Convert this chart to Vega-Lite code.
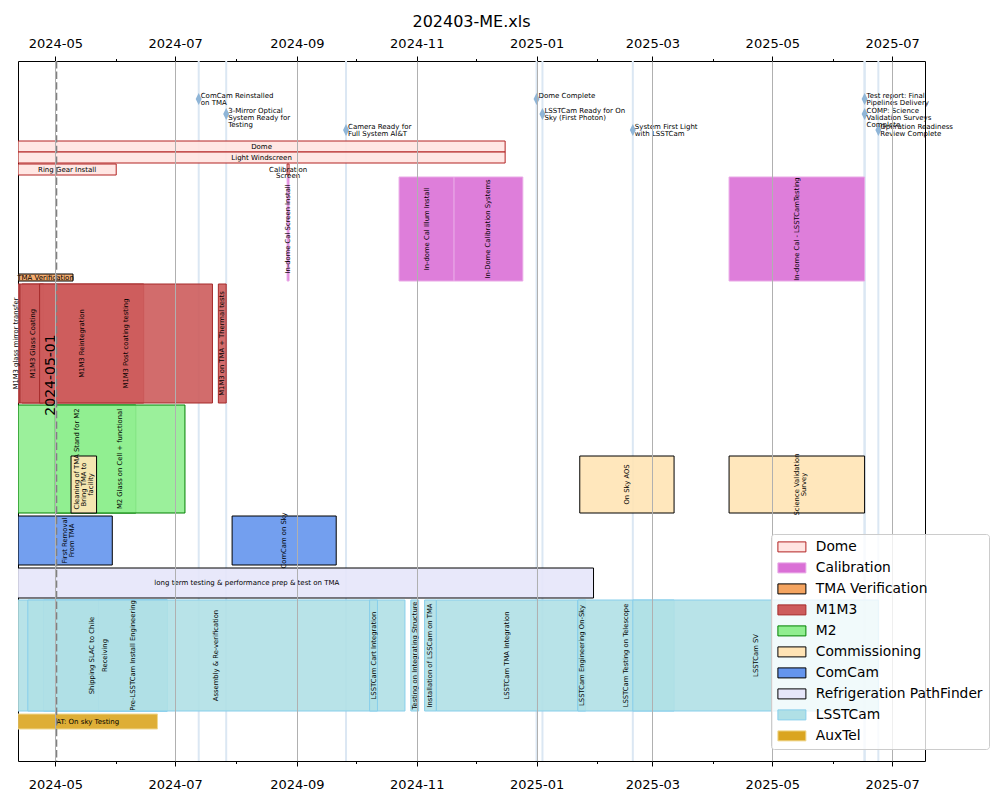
{
  "$schema": "https://vega.github.io/schema/vega-lite/v6.json",
  "width": 907,
  "height": 700,
  "autosize": {"type": "none"},
  "padding": {"left": 18, "top": 61, "right": 75, "bottom": 39},
  "title": {"text": "202403-ME.xls", "fontSize": 16, "font": "DejaVu Sans", "fontWeight": "normal", "offset": 7, "color": "black"},
  "config": {
    "font": "DejaVu Sans",
    "view": {"stroke": "black", "strokeWidth": 1},
    "axis": {"labelFont": "DejaVu Sans", "labelFontSize": 13, "labelColor": "black", "tickColor": "black", "domain": false, "labelPadding": 5, "labelOverlap": false, "labelFlush": false, "title": null},
    "legend": {"symbolType": "M-2.8,-1H2.8V1H-2.8Z", "symbolSize": 100, "labelFont": "DejaVu Sans", "labelFontSize": 13.8, "labelColor": "black", "padding": 6, "symbolOffset": 8, "labelOffset": 17, "rowPadding": 6, "labelLimit": 300, "fillColor": "rgba(255,255,255,0.8)", "strokeColor": "#cccccc", "cornerRadius": 3, "symbolStrokeWidth": 1, "symbolOpacity": 1},
    "text": {"font": "DejaVu Sans", "color": "black"}
  },
  "datasets": {
    "bars": [
      {"task": "Dome", "group": "Dome", "start": "2024-04-12", "end": "2024-12-16", "y0": 8.0, "y1": 9.1},
      {"task": "Light Windscreen", "group": "Dome", "start": "2024-04-12", "end": "2024-12-16", "y0": 9.1, "y1": 10.2},
      {"task": "Ring Gear Install", "group": "Dome", "start": "2024-04-12", "end": "2024-06-01", "y0": 10.3, "y1": 11.4},
      {"task": "Calibration\nScreen", "group": "Dome", "start": "2024-08-27", "end": "2024-08-28", "y0": 10.3, "y1": 11.4},
      {"task": "In-dome Cal Screen Install", "group": "Calibration", "start": "2024-08-27", "end": "2024-08-28", "y0": 11.6, "y1": 22.0},
      {"task": "In-dome Cal Illum Install", "group": "Calibration", "start": "2024-10-23", "end": "2024-11-20", "y0": 11.6, "y1": 22.0},
      {"task": "In-Dome Calibration Systems", "group": "Calibration", "start": "2024-11-20", "end": "2024-12-25", "y0": 11.6, "y1": 22.0},
      {"task": "In-dome Cal - LSSTCamTesting", "group": "Calibration", "start": "2025-04-09", "end": "2025-06-17", "y0": 11.6, "y1": 22.0},
      {"task": "TMA Verification", "group": "TMA Verification", "start": "2024-04-12", "end": "2024-05-10", "y0": 21.3, "y1": 22.0},
      {"task": "M1M3 glass mirror transfer", "group": "M1M3", "start": "2024-04-09", "end": "2024-04-13", "y0": 22.3, "y1": 34.2},
      {"task": "M1M3 Glass Coating", "group": "M1M3", "start": "2024-04-14", "end": "2024-04-25", "y0": 22.3, "y1": 34.2},
      {"task": "M1M3 Reintegration", "group": "M1M3", "start": "2024-04-13", "end": "2024-06-15", "y0": 22.3, "y1": 34.2},
      {"task": "M1M3 Post coating testing", "group": "M1M3", "start": "2024-04-23", "end": "2024-07-20", "y0": 22.3, "y1": 34.2},
      {"task": "M1M3 on TMA + Thermal tests", "group": "M1M3", "start": "2024-07-23", "end": "2024-07-27", "y0": 22.3, "y1": 34.2},
      {"task": "Cleaning of TMA Stand for M2", "group": "M2", "start": "2024-04-12", "end": "2024-06-11", "y0": 34.4, "y1": 45.2},
      {"task": "M2 Glass on Cell + functional", "group": "M2", "start": "2024-05-01", "end": "2024-07-06", "y0": 34.4, "y1": 45.2},
      {"task": "Bring TMA to\nfacility", "group": "Commissioning", "start": "2024-05-09", "end": "2024-05-22", "y0": 39.5, "y1": 45.2},
      {"task": "On Sky AOS", "group": "Commissioning", "start": "2025-01-23", "end": "2025-03-12", "y0": 39.5, "y1": 45.2},
      {"task": "Science Validation\nSurvey", "group": "Commissioning", "start": "2025-04-09", "end": "2025-06-17", "y0": 39.5, "y1": 45.2},
      {"task": "First Removal\nFrom TMA", "group": "ComCam", "start": "2024-04-12", "end": "2024-05-30", "y0": 45.5, "y1": 50.4},
      {"task": "ComCam on Sky", "group": "ComCam", "start": "2024-07-30", "end": "2024-09-21", "y0": 45.5, "y1": 50.4},
      {"task": "long term testing & performance prep & test  on TMA", "group": "Refrigeration PathFinder", "start": "2024-02-12", "end": "2025-01-30", "y0": 50.7, "y1": 53.7},
      {"task": "Shipping SLAC to Chile", "group": "LSSTCam", "start": "2024-04-11", "end": "2024-06-27", "y0": 53.9, "y1": 65.0},
      {"task": "Receiving", "group": "LSSTCam", "start": "2024-04-25", "end": "2024-06-27", "y0": 53.9, "y1": 65.0},
      {"task": "Pre-LSSTCam Install Engineering", "group": "LSSTCam", "start": "2024-05-23", "end": "2024-06-27", "y0": 53.9, "y1": 65.0},
      {"task": "Assembly & Re-verification", "group": "LSSTCam", "start": "2024-04-17", "end": "2024-10-26", "y0": 53.9, "y1": 65.0},
      {"task": "LSSTCam Cart Integration", "group": "LSSTCam", "start": "2024-10-08", "end": "2024-10-12", "y0": 53.9, "y1": 65.0},
      {"task": "Testing on Integrating Structure", "group": "LSSTCam", "start": "2024-10-29", "end": "2024-11-02", "y0": 53.9, "y1": 65.0},
      {"task": "Installation of LSSCam on TMA", "group": "LSSTCam", "start": "2024-11-05", "end": "2024-11-11", "y0": 53.9, "y1": 65.0},
      {"task": "LSSTCam TMA Integration", "group": "LSSTCam", "start": "2024-11-11", "end": "2025-01-22", "y0": 53.9, "y1": 65.0},
      {"task": "LSSTCam Engineering On-Sky", "group": "LSSTCam", "start": "2025-01-22", "end": "2025-01-26", "y0": 53.9, "y1": 65.0},
      {"task": "LSSTCam Testing on Telescope", "group": "LSSTCam", "start": "2025-01-22", "end": "2025-03-12", "y0": 53.9, "y1": 65.0},
      {"task": "LSSTCam SV", "group": "LSSTCam", "start": "2025-02-19", "end": "2025-06-24", "y0": 53.9, "y1": 65.0},
      {"task": "AT: On sky Testing", "group": "AuxTel", "start": "2024-04-12", "end": "2024-06-22", "y0": 65.3, "y1": 66.8}
    ],
    "milestones": [
      {"name": "ComCam Reinstalled\non TMA", "date": "2024-07-13", "lane": 3.8},
      {"name": "3-Mirror Optical\nSystem Ready for\nTesting", "date": "2024-07-27", "lane": 5.3},
      {"name": "Camera Ready for\nFull System AI&T", "date": "2024-09-26", "lane": 6.9},
      {"name": "Dome Complete", "date": "2025-01-01", "lane": 3.8},
      {"name": "LSSTCam Ready for On\nSky (First Photon)", "date": "2025-01-04", "lane": 5.3},
      {"name": "System First Light\nwith LSSTCam", "date": "2025-02-19", "lane": 6.9},
      {"name": "Test report: Final\nPipelines Delivery", "date": "2025-06-17", "lane": 3.8},
      {"name": "COMP: Science\nValidation Surveys\nComplete", "date": "2025-06-17", "lane": 5.3},
      {"name": "Operation Readiness\nReview Complete", "date": "2025-06-24", "lane": 6.9}
    ],
    "today": [
      {"label": "2024-05-01", "date": "2024-05-01T12:00:00Z", "lane": 31.4}
    ]
  },
  "layer": [
    {
      "data": {"name": "milestones"},
      "mark": {"type": "rule", "color": "#dbe7f3", "strokeWidth": 2},
      "encoding": {
        "x": {"field": "date", "type": "temporal",
          "scale": {"type": "utc", "domain": [{"year": 2024, "month": 4, "date": 12, "utc": true}, {"year": 2025, "month": 7, "date": 17, "hours": 18, "utc": true}]},
          "axis": {"orient": "top", "grid": false, "labelPadding": 6,
            "values": [{"year":2024,"month":5,"date":1,"utc":true},{"year":2024,"month":6,"date":1,"utc":true},{"year":2024,"month":7,"date":1,"utc":true},{"year":2024,"month":8,"date":1,"utc":true},{"year":2024,"month":9,"date":1,"utc":true},{"year":2024,"month":10,"date":1,"utc":true},{"year":2024,"month":11,"date":1,"utc":true},{"year":2024,"month":12,"date":1,"utc":true},{"year":2025,"month":1,"date":1,"utc":true},{"year":2025,"month":2,"date":1,"utc":true},{"year":2025,"month":3,"date":1,"utc":true},{"year":2025,"month":4,"date":1,"utc":true},{"year":2025,"month":5,"date":1,"utc":true},{"year":2025,"month":6,"date":1,"utc":true},{"year":2025,"month":7,"date":1,"utc":true}],
            "labelExpr": "utcmonth(datum.value) % 2 == 0 ? utcFormat(datum.value, '%Y-%m') : ''",
            "tickSize": {"condition": {"test": "utcmonth(datum.value) % 2 == 0", "value": 5}, "value": 2.5}
          }
        }
      }
    },
    {
      "data": {"name": "bars"},
      "mark": {"type": "rect", "fillOpacity": 0.9, "strokeWidth": 1, "strokeOpacity": 1, "clip": true},
      "encoding": {
        "x": {"field": "start", "type": "temporal",
          "scale": {"type": "utc", "domain": [{"year": 2024, "month": 4, "date": 12, "utc": true}, {"year": 2025, "month": 7, "date": 17, "hours": 18, "utc": true}]},
          "axis": {"orient": "bottom", "grid": true, "gridColor": "#b0b0b0", "gridWidth": 1, "zindex": 1, "labelPadding": 12,
            "gridOpacity": {"condition": {"test": "utcmonth(datum.value) % 2 == 0", "value": 1}, "value": 0},
            "values": [{"year":2024,"month":5,"date":1,"utc":true},{"year":2024,"month":6,"date":1,"utc":true},{"year":2024,"month":7,"date":1,"utc":true},{"year":2024,"month":8,"date":1,"utc":true},{"year":2024,"month":9,"date":1,"utc":true},{"year":2024,"month":10,"date":1,"utc":true},{"year":2024,"month":11,"date":1,"utc":true},{"year":2024,"month":12,"date":1,"utc":true},{"year":2025,"month":1,"date":1,"utc":true},{"year":2025,"month":2,"date":1,"utc":true},{"year":2025,"month":3,"date":1,"utc":true},{"year":2025,"month":4,"date":1,"utc":true},{"year":2025,"month":5,"date":1,"utc":true},{"year":2025,"month":6,"date":1,"utc":true},{"year":2025,"month":7,"date":1,"utc":true}],
            "labelExpr": "utcmonth(datum.value) % 2 == 0 ? utcFormat(datum.value, '%Y-%m') : ''",
            "tickSize": {"condition": {"test": "utcmonth(datum.value) % 2 == 0", "value": 5}, "value": 2.5}
          }
        },
        "x2": {"field": "end"},
        "y": {"field": "y0", "type": "quantitative", "scale": {"domain": [0, 70], "reverse": true, "nice": false, "zero": false}, "axis": null},
        "y2": {"field": "y1"},
        "fill": {"field": "group", "type": "nominal", "title": null,
          "scale": {"domain": ["Dome", "Calibration", "TMA Verification", "M1M3", "M2", "Commissioning", "ComCam", "Refrigeration PathFinder", "LSSTCam", "AuxTel"],
                    "range": ["#ffe4e1", "#da70d6", "#f4a460", "#cd5c5c", "#90ee90", "#ffe4b5", "#6495ed", "#e6e6fa", "#b0e0e6", "#daa520"]},
          "legend": {"orient": "none", "legendX": 753, "legendY": 473, "zindex": 2}},
        "stroke": {"field": "group", "type": "nominal", "title": null,
          "scale": {"domain": ["Dome", "Calibration", "TMA Verification", "M1M3", "M2", "Commissioning", "ComCam", "Refrigeration PathFinder", "LSSTCam", "AuxTel"],
                    "range": ["#b22222", "#e9a8e6", "#000000", "#a52a2a", "#008000", "#000000", "#000000", "#000000", "#87ceeb", "#f0d890"]},
          "legend": {"orient": "none", "legendX": 753, "legendY": 473, "zindex": 2}}
      }
    },
    {
      "data": {"name": "bars"},
      "transform": [
        {"filter": {"field": "group", "oneOf": ["Dome", "TMA Verification", "Refrigeration PathFinder", "AuxTel"]}},
        {"calculate": "(time(toDate(datum.start)) + time(toDate(datum.end))) / 2", "as": "mid"},
        {"calculate": "(datum.y0 + datum.y1) / 2", "as": "ym"}
      ],
      "mark": {"type": "text", "fontSize": 7, "align": "center", "baseline": "middle", "lineBreak": "\n", "lineHeight": 6.5},
      "encoding": {
        "x": {"field": "mid", "type": "temporal", "scale": {"type": "utc", "domain": [{"year": 2024, "month": 4, "date": 12, "utc": true}, {"year": 2025, "month": 7, "date": 17, "hours": 18, "utc": true}]}, "axis": null},
        "y": {"field": "ym", "type": "quantitative", "scale": {"domain": [0, 70], "reverse": true, "nice": false, "zero": false}, "axis": null},
        "text": {"field": "task"}
      }
    },
    {
      "data": {"name": "bars"},
      "transform": [
        {"filter": {"not": {"field": "group", "oneOf": ["Dome", "TMA Verification", "Refrigeration PathFinder", "AuxTel"]}}},
        {"calculate": "(time(toDate(datum.start)) + time(toDate(datum.end))) / 2", "as": "mid"},
        {"calculate": "(datum.y0 + datum.y1) / 2", "as": "ym"}
      ],
      "mark": {"type": "text", "fontSize": 6.8, "align": "center", "baseline": "middle", "angle": 270, "lineBreak": "\n", "lineHeight": 7},
      "encoding": {
        "x": {"field": "mid", "type": "temporal", "scale": {"type": "utc", "domain": [{"year": 2024, "month": 4, "date": 12, "utc": true}, {"year": 2025, "month": 7, "date": 17, "hours": 18, "utc": true}]}, "axis": null},
        "y": {"field": "ym", "type": "quantitative", "scale": {"domain": [0, 70], "reverse": true, "nice": false, "zero": false}, "axis": null},
        "text": {"field": "task"}
      }
    },
    {
      "data": {"name": "today"},
      "mark": {"type": "rule", "color": "#808080", "strokeWidth": 2, "strokeDash": [7.4, 3.2]},
      "encoding": {
        "x": {"field": "date", "type": "temporal", "scale": {"type": "utc", "domain": [{"year": 2024, "month": 4, "date": 12, "utc": true}, {"year": 2025, "month": 7, "date": 17, "hours": 18, "utc": true}]}, "axis": null}
      }
    },
    {
      "data": {"name": "today"},
      "mark": {"type": "text", "fontSize": 14, "angle": 270, "align": "center", "baseline": "alphabetic", "dy": -1},
      "encoding": {
        "x": {"field": "date", "type": "temporal", "scale": {"type": "utc", "domain": [{"year": 2024, "month": 4, "date": 12, "utc": true}, {"year": 2025, "month": 7, "date": 17, "hours": 18, "utc": true}]}, "axis": null},
        "y": {"field": "lane", "type": "quantitative", "scale": {"domain": [0, 70], "reverse": true, "nice": false, "zero": false}, "axis": null},
        "text": {"field": "label"}
      }
    },
    {
      "data": {"name": "milestones"},
      "mark": {"type": "point", "shape": "M0,-1L0.5,0L0,1L-0.5,0Z", "filled": true, "size": 144, "color": "#8fb5d7", "opacity": 1},
      "encoding": {
        "x": {"field": "date", "type": "temporal", "scale": {"type": "utc", "domain": [{"year": 2024, "month": 4, "date": 12, "utc": true}, {"year": 2025, "month": 7, "date": 17, "hours": 18, "utc": true}]}, "axis": null},
        "y": {"field": "lane", "type": "quantitative", "scale": {"domain": [0, 70], "reverse": true, "nice": false, "zero": false}, "axis": null}
      }
    },
    {
      "data": {"name": "milestones"},
      "mark": {"type": "text", "fontSize": 7, "align": "left", "baseline": "top", "dx": 2, "dy": -7, "lineBreak": "\n", "lineHeight": 7},
      "encoding": {
        "x": {"field": "date", "type": "temporal", "scale": {"type": "utc", "domain": [{"year": 2024, "month": 4, "date": 12, "utc": true}, {"year": 2025, "month": 7, "date": 17, "hours": 18, "utc": true}]}, "axis": null},
        "y": {"field": "lane", "type": "quantitative", "scale": {"domain": [0, 70], "reverse": true, "nice": false, "zero": false}, "axis": null},
        "text": {"field": "name"}
      }
    }
  ],
  "resolve": {"axis": {"x": "independent"}}
}
